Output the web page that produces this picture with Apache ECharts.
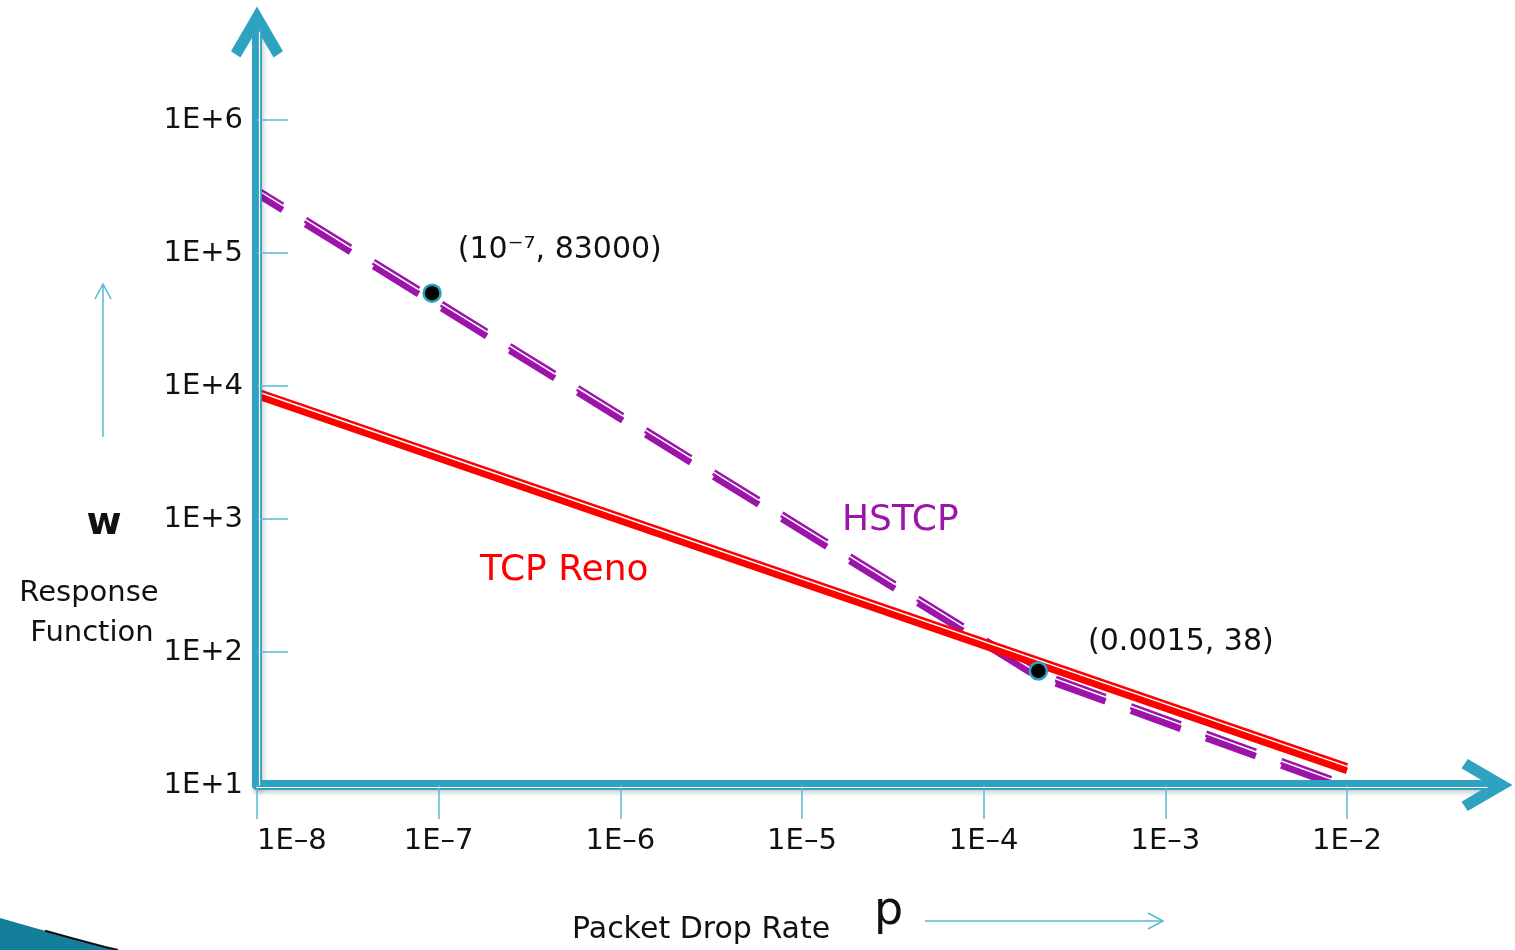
<!DOCTYPE html>
<html>
<head>
<meta charset="utf-8">
<script src="https://cdn.jsdelivr.net/npm/echarts@6/dist/echarts.min.js"></script>
<style>
html,body{margin:0;padding:0;background:#ffffff;}
#chart{width:1515px;height:950px;}
</style>
</head>
<body>
<div id="chart"></div>
<script>
// ---- data ----
const xTickValues = [1e-8, 1e-7, 1e-6, 1e-5, 1e-4, 1e-3, 1e-2];
const yLabelValues = [10, 100, 1000, 10000, 100000, 1000000];
const yTickValues = [100, 1000, 10000, 100000, 1000000];
const renoData = [[1e-8, 9100], [1e-2, 13.8]];
const hstcpData = [[1e-8, 3.0e5], [1.95e-4, 71], [1e-2, 10]];
const pointData = [[9.2e-8, 5.0e4], [2.0e-4, 72]];
const pointLabels = ['(10⁻⁷, 83000)', '(0.0015, 38)'];

// ---- styles ----
const TEAL = '#2ea2c0';
const TICK = '#56b9d3';
const PURPLE = '#9c14aa';
const RED = '#ff0000';
const FONT = 'DejaVu Sans';
const X_MAX = 0.059;
const Y_MAX = 4.6e6;
const CHEVRON = 'path://M50,0 L100,86 L82,98 L50,44 L18,98 L0,86 Z';
const labelPos = [[35.5, -33.5], [59.5, -19.5]];

function fmt(v) {
  const e = Math.round(Math.log10(v));
  return '1E' + (e >= 0 ? '+' : '–') + Math.abs(e);
}

const chart = echarts.init(document.getElementById('chart'), null, {renderer: 'canvas'});

const axisShadow = {shadowColor: 'rgba(0,0,0,0.18)', shadowBlur: 5, shadowOffsetX: 2, shadowOffsetY: 3};

const option = {
  backgroundColor: '#ffffff',
  animation: false,
  grid: {left: 257, right: 28, top: 32, bottom: 165},
  xAxis: [
    {
      type: 'log', logBase: 10, min: 1e-8, max: X_MAX, position: 'bottom', z: 5,
      axisLine: {show: true, onZero: false, symbol: ['none', CHEVRON], symbolSize: [52, 51],
        lineStyle: Object.assign({color: TEAL, width: 10}, axisShadow)},
      axisTick: {show: true, customValues: xTickValues, length: 34, lineStyle: {color: TICK, width: 1.5}},
      axisLabel: {show: true, customValues: xTickValues, formatter: fmt, margin: 42,
        fontSize: 29, fontFamily: FONT, color: '#111', alignMinLabel: 'left'},
      splitLine: {show: false}, minorTick: {show: false}, minorSplitLine: {show: false}
    },
    {
      type: 'log', logBase: 10, min: 1e-8, max: X_MAX, position: 'bottom', offset: 2, z: 6,
      axisLine: {show: true, onZero: false, lineStyle: {color: '#ffffff', width: 1.2}},
      axisTick: {show: false}, axisLabel: {show: false}, splitLine: {show: false}
    }
  ],
  yAxis: [
    {
      type: 'log', logBase: 10, min: 10, max: Y_MAX, position: 'left', z: 5,
      axisLine: {show: true, onZero: false, symbol: ['none', CHEVRON], symbolSize: [52, 51],
        lineStyle: Object.assign({color: TEAL, width: 10}, axisShadow)},
      axisTick: {show: true, inside: true, customValues: yTickValues, length: 31, lineStyle: {color: TICK, width: 1.5}},
      axisLabel: {show: true, customValues: yLabelValues, formatter: fmt, margin: 14,
        fontSize: 29, fontFamily: FONT, color: '#111'},
      splitLine: {show: false}, minorTick: {show: false}, minorSplitLine: {show: false}
    },
    {
      type: 'log', logBase: 10, min: 10, max: Y_MAX, position: 'left', offset: -2.5, z: 6,
      axisLine: {show: true, onZero: false, lineStyle: {color: '#ffffff', width: 1.2}},
      axisTick: {show: false}, axisLabel: {show: false}, splitLine: {show: false}
    }
  ],
  series: [
    {
      name: 'HSTCP', type: 'line', data: hstcpData, symbol: 'none', clip: false, silent: true, z: 3,
      lineStyle: {color: PURPLE, width: 6.5, type: [53, 27], dashOffset: 23,
        shadowColor: PURPLE, shadowBlur: 0.1, shadowOffsetX: 0, shadowOffsetY: 4.5}
    },
    {
      name: 'HSTCP gap', type: 'line', data: hstcpData, symbol: 'none', clip: false, silent: true, z: 3,
      lineStyle: {color: '#ffffff', width: 1.5, type: [53, 27], dashOffset: 23}
    },
    {
      name: 'TCP Reno', type: 'line', data: renoData, symbol: 'none', clip: false, silent: true, z: 4,
      lineStyle: {color: RED, width: 6.5, shadowColor: RED, shadowBlur: 0.1, shadowOffsetX: 0, shadowOffsetY: 4.5}
    },
    {
      name: 'TCP Reno gap', type: 'line', data: renoData, symbol: 'none', clip: false, silent: true, z: 4,
      lineStyle: {color: '#ffffff', width: 1.5}
    },
    {
      name: 'points', type: 'scatter', z: 10, symbolSize: 17, silent: true,
      itemStyle: {color: '#000000', borderColor: TEAL, borderWidth: 2.5, opacity: 1},
      data: pointData.map((d, i) => ({
        value: d,
        label: {show: true, formatter: pointLabels[i], position: labelPos[i], align: 'left', verticalAlign: 'middle',
          fontSize: 30, fontFamily: FONT, color: '#111'}
      }))
    }
  ],
  graphic: [
    {type: 'text', x: 104, y: 524, style: {text: 'w', fontSize: 38, fontWeight: 'bold', fontFamily: FONT, fill: '#111', align: 'center', verticalAlign: 'middle'}},
    {type: 'text', x: 89, y: 593, style: {text: 'Response', fontSize: 29, fontFamily: FONT, fill: '#111', align: 'center', verticalAlign: 'middle'}},
    {type: 'text', x: 92, y: 633, style: {text: 'Function', fontSize: 29, fontFamily: FONT, fill: '#111', align: 'center', verticalAlign: 'middle'}},
    {type: 'text', x: 572, y: 930, style: {text: 'Packet Drop Rate', fontSize: 30, fontFamily: FONT, fill: '#111', align: 'left', verticalAlign: 'middle'}},
    {type: 'text', x: 874, y: 912, style: {text: 'p', fontSize: 46, fontFamily: FONT, fill: '#111', align: 'left', verticalAlign: 'middle'}},
    {type: 'text', x: 842, y: 521, style: {text: 'HSTCP', fontSize: 36, fontFamily: FONT, fill: PURPLE, align: 'left', verticalAlign: 'middle'}},
    {type: 'text', x: 480, y: 571, style: {text: 'TCP Reno', fontSize: 36, fontFamily: FONT, fill: RED, align: 'left', verticalAlign: 'middle'}},
    {type: 'polyline', shape: {points: [[103, 437], [103, 284]]}, style: {stroke: TICK, lineWidth: 1.5, fill: null}},
    {type: 'polyline', shape: {points: [[95, 299], [103, 284], [111, 299]]}, style: {stroke: TICK, lineWidth: 1.5, fill: null}},
    {type: 'polyline', shape: {points: [[925, 921], [1163, 921]]}, style: {stroke: TICK, lineWidth: 1.5, fill: null}},
    {type: 'polyline', shape: {points: [[1148, 913], [1163, 921], [1148, 929]]}, style: {stroke: TICK, lineWidth: 1.5, fill: null}},
    {type: 'polygon', shape: {points: [[0, 918], [35, 928], [75, 939], [105, 947], [118, 950], [0, 950]]}, style: {fill: '#137f9a'}},
    {type: 'polyline', shape: {points: [[45, 930.8], [75, 939], [105, 947], [118, 950]]}, style: {stroke: '#111', lineWidth: 2, fill: null}}
  ]
};

chart.setOption(option);
</script>
</body>
</html>
